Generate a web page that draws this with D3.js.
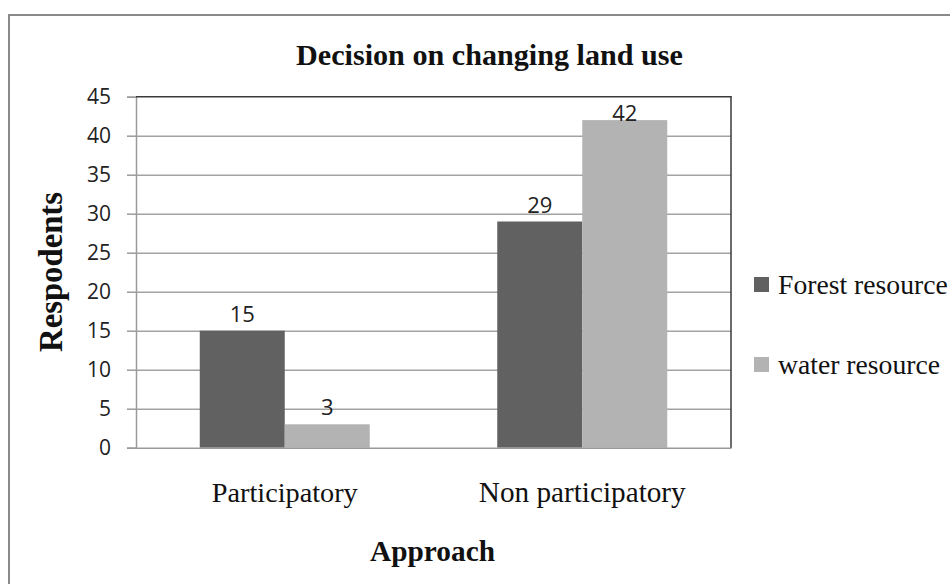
<!DOCTYPE html>
<html><head><meta charset="utf-8">
<script src="https://cdn.jsdelivr.net/npm/d3@7"></script>
<style>body{margin:0;background:#fff;overflow:hidden}</style>
</head><body><svg id="c" width="950" height="584"></svg>
<script>
// ---- data ----
const categories = ["Participatory", "Non participatory"];
const seriesNames = ["Forest resource", "water resource"];
const forestValues = [15, 29];
const waterValues = [3, 42];
const yTickValues = [0, 5, 10, 15, 20, 25, 30, 35, 40, 45];
const chartTitle = "Decision on changing land use";
const xAxisTitle = "Approach";
const yAxisTitle = "Respodents";
const seriesColors = ["#616161", "#b3b3b3"];

// ---- layout ----
const svg = d3.select("#c");
const plot = {left: 136, right: 731, top: 96.7, bottom: 447.7};
const serifFont = "'Liberation Serif', 'Times New Roman', serif";
const sansFont = "'Open Sans', 'Liberation Sans', sans-serif";

function fit(sel, target) {
  const w = sel.node().getComputedTextLength();
  const fs = parseFloat(sel.attr("font-size"));
  sel.attr("font-size", (fs * target / w).toFixed(2));
}

// outer chart border
svg.append("rect").attr("x", 9).attr("y", 15).attr("width", 1000).attr("height", 700)
  .attr("fill", "#fff").attr("stroke", "#8a8a8a").attr("stroke-width", 2);

const x0 = d3.scaleBand().domain(categories).range([plot.left, plot.right])
  .paddingInner(0.4286).paddingOuter(0.2143);
const x1 = d3.scaleBand().domain(seriesNames).range([0, x0.bandwidth()]);
const y = d3.scaleLinear().domain([0, 45]).range([plot.bottom, plot.top]);

// gridlines
const grid = svg.append("g").attr("transform", `translate(${plot.left},0)`)
  .call(d3.axisLeft(y).tickValues(yTickValues.filter(v => v > 0 && v < 45))
    .tickSize(-(plot.right - plot.left)).tickFormat(""));
grid.select(".domain").remove();
grid.selectAll("line").attr("stroke", "#a3a3a3").attr("stroke-width", 1.5);

// bars
const rows = categories.map((c, i) => ({cat: c, vals: [forestValues[i], waterValues[i]]}));
const groups = svg.append("g").selectAll("g").data(rows).join("g")
  .attr("transform", d => `translate(${x0(d.cat)},0)`);
groups.selectAll("rect").data(d => d.vals.map((v, j) => ({s: seriesNames[j], v, j})))
  .join("rect")
  .attr("x", d => x1(d.s)).attr("width", x1.bandwidth())
  .attr("y", d => y(d.v)).attr("height", d => y(0) - y(d.v))
  .attr("fill", d => seriesColors[d.j]);

// value labels (kept inside the plot area)
groups.selectAll("text").data(d => d.vals.map((v, j) => ({s: seriesNames[j], v, j})))
  .join("text")
  .attr("x", d => x1(d.s) + x1.bandwidth() / 2)
  .attr("y", d => Math.max(y(d.v) - 9, plot.top + 24.5))
  .attr("text-anchor", "middle").attr("font-family", sansFont).attr("font-size", 22)
  .attr("fill", "#222").text(d => d.v);

// y axis with ticks
const yAxis = svg.append("g").attr("transform", `translate(${plot.left},0)`)
  .call(d3.axisLeft(y).tickValues(yTickValues).tickSize(9).tickPadding(16));
yAxis.select(".domain").attr("stroke", "#9a9a9a").attr("stroke-width", 1.5);
yAxis.selectAll(".tick line").attr("stroke", "#9a9a9a").attr("stroke-width", 1.5);
yAxis.selectAll(".tick text").attr("font-family", sansFont).attr("font-size", 21)
  .attr("fill", "#222");

// x axis (no ticks)
const xAxis = svg.append("g").attr("transform", `translate(0,${plot.bottom})`)
  .call(d3.axisBottom(x0).tickSize(0).tickPadding(0));
xAxis.select(".domain").attr("stroke", "#9a9a9a").attr("stroke-width", 1.5);
xAxis.selectAll(".tick text").attr("font-family", serifFont).attr("font-size", 26)
  .attr("fill", "#111").attr("dy", null).attr("y", 54.5);
xAxis.selectAll(".tick text").each(function(d, i) {
  fit(d3.select(this), [146, 207][i]);
});

// plot top and right borders
svg.append("line").attr("x1", plot.left).attr("x2", plot.right + 0.75)
  .attr("y1", plot.top).attr("y2", plot.top).attr("stroke", "#3a3a3a").attr("stroke-width", 1.5);
svg.append("line").attr("x1", plot.right).attr("x2", plot.right)
  .attr("y1", plot.top).attr("y2", plot.bottom).attr("stroke", "#3a3a3a").attr("stroke-width", 1.5);

// titles
const t = svg.append("text").attr("x", 489.5).attr("y", 65).attr("text-anchor", "middle")
  .attr("font-family", serifFont).attr("font-weight", "bold").attr("font-size", 26)
  .attr("fill", "#111").text(chartTitle);
fit(t, 387);
const xt = svg.append("text").attr("x", 432.5).attr("y", 561).attr("text-anchor", "middle")
  .attr("font-family", serifFont).attr("font-weight", "bold").attr("font-size", 26)
  .attr("fill", "#111").text(xAxisTitle);
fit(xt, 125);
const yt = svg.append("text").attr("transform", "translate(62,272) rotate(-90)")
  .attr("text-anchor", "middle")
  .attr("font-family", serifFont).attr("font-weight", "bold").attr("font-size", 26)
  .attr("fill", "#111").text(yAxisTitle);
fit(yt, 160);

// legend
const legendY = [277, 357];
const lg = svg.append("g").selectAll("g").data(seriesNames).join("g");
lg.append("rect").attr("x", 754).attr("y", (d, i) => legendY[i])
  .attr("width", 15).attr("height", 15).attr("fill", (d, i) => seriesColors[i]);
const ltxt = lg.append("text").attr("x", 778).attr("y", (d, i) => legendY[i] + 17)
  .attr("font-family", serifFont).attr("font-size", 26).attr("fill", "#111").text(d => d);
ltxt.filter((d, i) => i === 1).each(function() { fit(d3.select(this), 162); });
const lfs = ltxt.filter((d, i) => i === 1).attr("font-size");
ltxt.attr("font-size", lfs);
</script></body></html>
